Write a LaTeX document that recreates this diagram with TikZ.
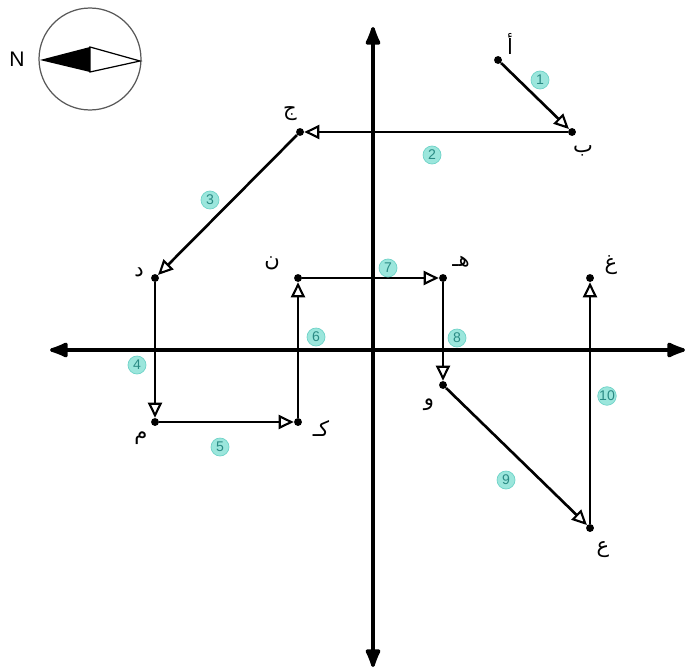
\documentclass[tikz,border=0pt]{standalone}
\usepackage{fontspec}
\setsansfont{Liberation Sans}
\newfontfamily\arabicfont[Script=Arabic]{DejaVu Sans}
\TeXXeTstate=1
\usetikzlibrary{arrows.meta,positioning}
\definecolor{badgefill}{HTML}{9BE6DC}
\definecolor{badgeline}{HTML}{6FD3C8}
\definecolor{badgetext}{HTML}{2A8A84}
\newcommand{\artxt}[1]{{\arabicfont\beginR #1\endR}}

\begin{document}
\begin{tikzpicture}[
  x=0.02cm, y=-0.02cm,
  axis/.style={line width=2pt, {Latex[length=4.6mm,width=3.5mm,round]}-{Latex[length=4.6mm,width=3.5mm,round]}},
  leg/.style={line width=1.5pt, -{Triangle[open,length=3mm,width=2.8mm,line width=1.2pt]}},
  dot/.style={circle, fill, inner sep=0pt, minimum size=4.5pt},
  lbl/.style={font=\arabicfont\large, inner sep=1pt},
  badge/.style={circle, fill=badgefill, draw=badgeline, text=badgetext,
    inner sep=0pt, minimum size=3.6mm, font=\sffamily\footnotesize}
]
\useasboundingbox (0,0) rectangle (685,669);

% compass
\node[circle, draw=black!65, line width=0.7pt, minimum size=2.04cm] (compass) at (90,59) {};
\fill (40,60) -- (90,47) -- (90,72) -- cycle;
\draw[line width=0.7pt, fill=white] (90,47) -- (140,61) -- (90,72) -- cycle;
\node[font=\sffamily\large] (north) at (17,59) {N};

% axes
\coordinate (xl) at (50,350);
\coordinate (xr) at (685,350);
\coordinate (yt) at (373,27);
\coordinate (yb) at (373,667);
\draw[axis] (xl) -- (xr);
\draw[axis] (yt) -- (yb);

% traverse points
\node[dot] (A) at (498,60) {};
\node[dot] (B) at (572,132) {};
\node[dot] (J) at (300,132) {};
\node[dot] (D) at (155,278) {};
\node[dot] (M) at (155,422) {};
\node[dot] (K) at (298,422) {};
\node[dot] (N) at (298,278) {};
\node[dot] (H) at (443,278) {};
\node[dot] (W) at (443,385) {};
\node[dot] (E) at (590,528) {};
\node[dot] (G) at (590,278) {};

\node[lbl] (lA) at (510,44) {\artxt{أ}};
\node[lbl] (lB) at (583,151) {\artxt{ب}};
\node[lbl] (lJ) at (290,114) {\artxt{ج}};
\node[lbl] (lD) at (139,272) {\artxt{د}};
\node[lbl] (lM) at (141,438) {\artxt{م}};
\node[lbl] (lK) at (321,428) {\artxt{كـ}};
\node[lbl] (lN) at (272,263) {\artxt{ن}};
\node[lbl] (lH) at (461,262) {\artxt{هـ}};
\node[lbl] (lW) at (429,405) {\artxt{و}};
\node[lbl] (lE) at (603,550) {\artxt{ع}};
\node[lbl] (lG) at (611,265) {\artxt{غ}};

% legs
\draw[leg] (A) -- (B);
\draw[leg] (B) -- (J);
\draw[leg] (J) -- (D);
\draw[leg] (D) -- (M);
\draw[leg] (M) -- (K);
\draw[leg] (K) -- (N);
\draw[leg] (N) -- (H);
\draw[leg] (H) -- (W);
\draw[leg] (W) -- (E);
\draw[leg] (E) -- (G);

% leg numbers
\node[badge] (n1) at (540,80) {1};
\node[badge] (n2) at (432,155) {2};
\node[badge] (n3) at (210,200) {3};
\node[badge] (n4) at (137,365) {4};
\node[badge] (n5) at (220,447) {5};
\node[badge] (n6) at (316,337) {6};
\node[badge] (n7) at (388,268) {7};
\node[badge] (n8) at (457,338) {8};
\node[badge] (n9) at (506,480) {9};
\node[badge] (n10) at (607,396) {10};
\end{tikzpicture}
\end{document}
